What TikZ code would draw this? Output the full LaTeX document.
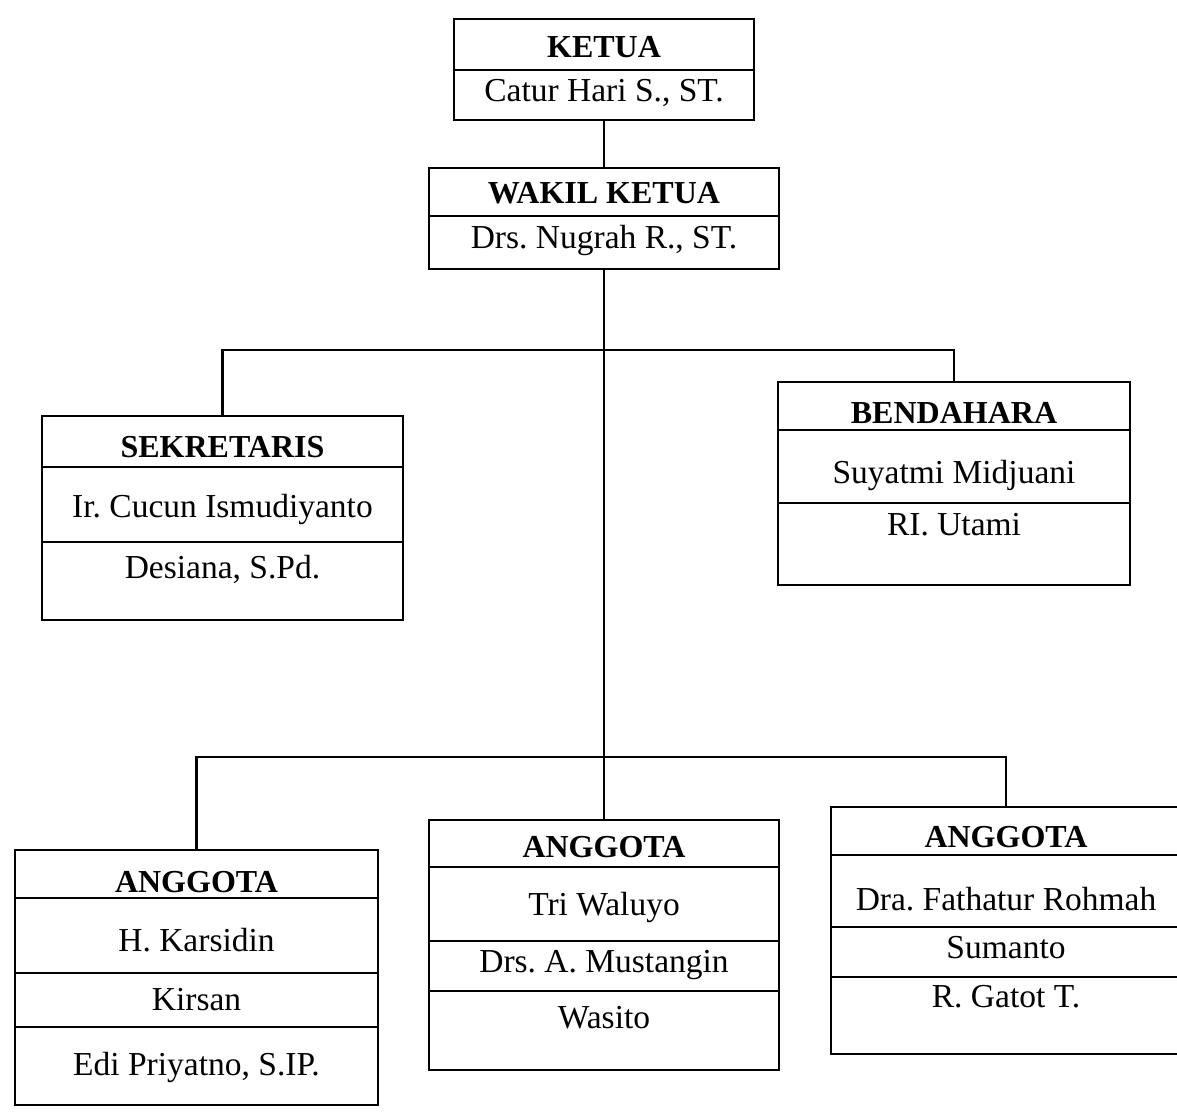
\documentclass[tikz,border=0pt]{standalone}
\usepackage{fontspec}
\setmainfont{Liberation Serif}
\frenchspacing
\tikzset{
  frame/.style={draw, line width=2.4pt, inner sep=0pt, outer sep=0pt},
  link/.style={line width=2.4pt},
  head/.style={anchor=base, inner sep=0pt, font=\bfseries\fontsize{32}{36}\selectfont},
  member/.style={anchor=base, inner sep=0pt, font=\fontsize{33.5}{38}\selectfont}
}
\begin{document}
\begin{tikzpicture}[x=1pt, y=-1pt]
\useasboundingbox (0,0) rectangle (1177,1116);

% pengurus inti
\node[frame, minimum width=300pt, minimum height=101pt] (ketua) at (604,69.5) {};
\draw[link] (ketua.west |- 0,70) -- (ketua.east |- 0,70);
\node[head] (ketuaH) at (604,57) {KETUA};
\node[member] (ketuaN) at (604,101) {Catur Hari S., ST.};

\node[frame, minimum width=350pt, minimum height=101pt] (wakil) at (604,218.5) {};
\draw[link] (wakil.west |- 0,216) -- (wakil.east |- 0,216);
\node[head] (wakilH) at (604,203) {WAKIL KETUA};
\node[member] (wakilN) at (604,248) {Drs. Nugrah R., ST.};

\node[frame, minimum width=361pt, minimum height=204pt] (sek) at (222.5,518) {};
\foreach \y in {467,542}
  \draw[link] (sek.west |- 0,\y) -- (sek.east |- 0,\y);
\node[head] (sekH) at (222.5,457) {SEKRETARIS};
\node[member] (sekA) at (222.5,517) {Ir. Cucun Ismudiyanto};
\node[member] (sekB) at (222.5,578) {Desiana, S.Pd.};

\node[frame, minimum width=352pt, minimum height=203pt] (bend) at (954,483.5) {};
\foreach \y in {430,503}
  \draw[link] (bend.west |- 0,\y) -- (bend.east |- 0,\y);
\node[head] (bendH) at (954,423) {BENDAHARA};
\node[member] (bendA) at (954,483) {Suyatmi Midjuani};
\node[member] (bendB) at (954,535) {RI. Utami};

% anggota
\node[frame, minimum width=363pt, minimum height=255pt] (agt1) at (196.5,977.5) {};
\foreach \y in {898,973,1027}
  \draw[link] (agt1.west |- 0,\y) -- (agt1.east |- 0,\y);
\node[head] (agt1H) at (196.5,892) {ANGGOTA};
\node[member] (agt1A) at (196.5,951) {H. Karsidin};
\node[member] (agt1B) at (196.5,1010) {Kirsan};
\node[member] (agt1C) at (196.5,1075) {Edi Priyatno, S.IP.};

\node[frame, minimum width=350pt, minimum height=250pt] (agt2) at (604,945) {};
\foreach \y in {867,941,991}
  \draw[link] (agt2.west |- 0,\y) -- (agt2.east |- 0,\y);
\node[head] (agt2H) at (604,857) {ANGGOTA};
\node[member] (agt2A) at (604,915) {Tri Waluyo};
\node[member] (agt2B) at (604,972) {Drs. A. Mustangin};
\node[member] (agt2C) at (604,1028) {Wasito};

\node[frame, minimum width=350pt, minimum height=247pt] (agt3) at (1006,930.5) {};
\foreach \y in {855,927,977}
  \draw[link] (agt3.west |- 0,\y) -- (agt3.east |- 0,\y);
\node[head] (agt3H) at (1006,847) {ANGGOTA};
\node[member] (agt3A) at (1006,910) {Dra. Fathatur Rohmah};
\node[member] (agt3B) at (1006,958) {Sumanto};
\node[member] (agt3C) at (1006,1007) {R. Gatot T.};

% garis hubung
\coordinate (bar1) at (604,350);
\coordinate (bar2) at (604,757);
\draw[link] (ketua.south) -- (wakil.north);
\draw[link] (wakil.south) -- (agt2.north);
\draw[link] (sek.north) |- (bar1) -| (bend.north);
\draw[link] (agt1.north) |- (bar2) -| (agt3.north);
\end{tikzpicture}
\end{document}
